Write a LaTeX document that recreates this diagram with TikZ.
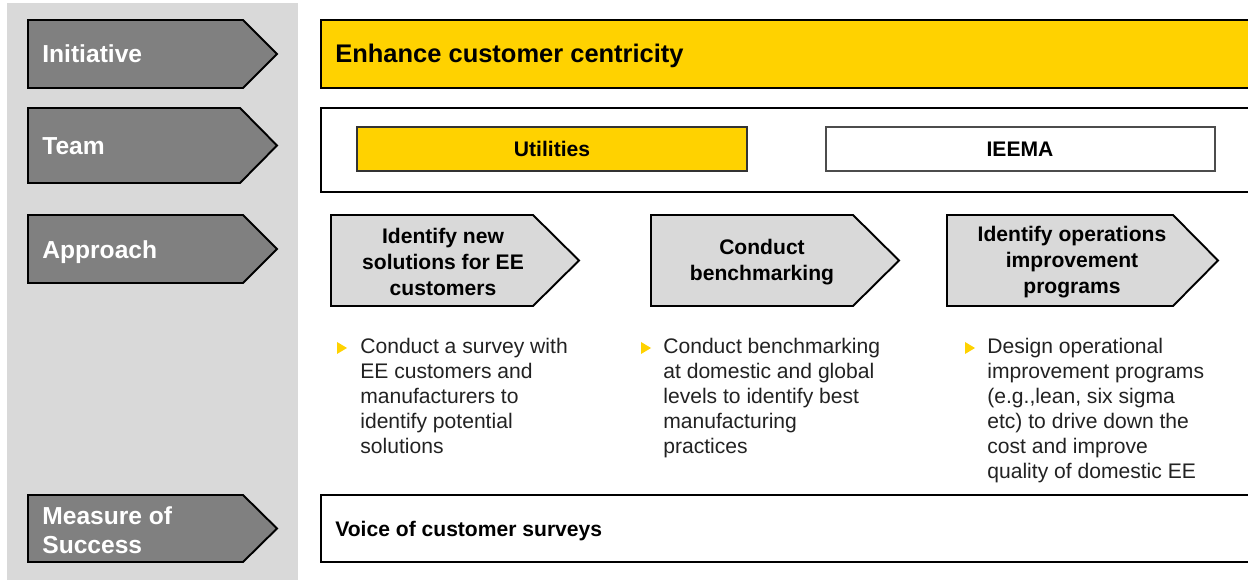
\documentclass[tikz,border=0pt]{standalone}
\usepackage{fontspec}
\setmainfont{Liberation Sans}
\usepackage{tikz}
\usetikzlibrary{positioning}
\definecolor{panelgray}{HTML}{D9D9D9}
\definecolor{tabgray}{HTML}{808080}
\definecolor{stepgray}{HTML}{D9D9D9}
\definecolor{accent}{HTML}{FFD200}
\definecolor{bodytext}{HTML}{222222}

\begin{document}
\begin{tikzpicture}[x=0.02cm, y=-0.02cm,
  tab/.style={draw=black, line width=1.1pt, fill=tabgray, line join=miter},
  tabtext/.style={text=white, inner sep=0pt, align=left, font=\fontsize{14}{16.5}\selectfont\bfseries},
  frame/.style={draw=black, line width=1.1pt},
  stepbox/.style={draw=black, line width=1.1pt, fill=stepgray},
  steptext/.style={inner sep=0pt, align=center, font=\fontsize{12}{14.7}\selectfont\bfseries},
  bullettext/.style={anchor=north west, inner sep=0pt, align=left, text=bodytext, font=\fontsize{12}{14.2}\selectfont},
  bulletmark/.style={fill=accent}]
\useasboundingbox (0,0) rectangle (1248,580);
\clip (0,0) rectangle (1248,580);
% Left panel
\fill[panelgray] (7,3) rectangle (298,580);
% Row tabs
\draw[tab] (28,20) -- (243,20) -- (277,54) -- (243,88) -- (28,88) -- cycle;
\node[tabtext, anchor=base west] (initiative) at (42,63) {Initiative};
\draw[tab] (28,108) -- (240,108) -- (277,145.5) -- (240,183) -- (28,183) -- cycle;
\node[tabtext, anchor=base west] (team) at (42,155) {Team};
\draw[tab] (28,215) -- (243,215) -- (277,249) -- (243,283) -- (28,283) -- cycle;
\node[tabtext, anchor=base west] (approach) at (42,259) {Approach};
\draw[tab] (28,495) -- (243,495) -- (277,528.5) -- (243,562) -- (28,562) -- cycle;
\node[tabtext, anchor=west] (measure) at (42,530) {Measure of\\Success};
% Initiative
\draw[frame, fill=accent] (321,20) rectangle (1260,88);
\node[anchor=base west, inner sep=0pt, font=\fontsize{14.5}{16}\selectfont\bfseries] (enhance) at (335,63) {Enhance customer centricity};
% Team
\draw[frame] (321,108) rectangle (1260,192);
\draw[draw=black!80, line width=0.6pt, fill=accent] (357,127) rectangle (747,171);
\node[font=\fontsize{12}{14}\selectfont\bfseries] (utilities) at (552,149) {Utilities};
\draw[draw=black!70, line width=0.6pt, fill=white] (826,127) rectangle (1215,171);
\node[font=\fontsize{12}{14}\selectfont\bfseries] (ieema) at (1020,149) {IEEMA};
% Approach steps
\draw[stepbox] (331,215) -- (533,215) -- (579,260.5) -- (533,306) -- (331,306) -- cycle;
\node[steptext] (step1) at (443,262) {Identify new\\solutions for EE\\customers};
\draw[stepbox] (651,215) -- (853,215) -- (899,260.5) -- (853,306) -- (651,306) -- cycle;
\node[steptext] (step2) at (762,262) {Conduct\\benchmarking};
\draw[stepbox] (947,215) -- (1173,215) -- (1218,260.5) -- (1173,306) -- (947,306) -- cycle;
\node[steptext] (step3) at (1072,262) {Identify operations\\improvement\\programs};
% Bullets
\fill[bulletmark] (337,342) -- (347,348) -- (337,354) -- cycle;
\node[bullettext] (detail1) at (360,338) {Conduct a survey with\\EE customers and\\manufacturers to\\identify potential\\solutions};
\fill[bulletmark] (641,342) -- (651,348) -- (641,354) -- cycle;
\node[bullettext] (detail2) at (663,338) {Conduct benchmarking\\at domestic and global\\levels to identify best\\manufacturing\\practices};
\fill[bulletmark] (965,342) -- (975,348) -- (965,354) -- cycle;
\node[bullettext] (detail3) at (987,338) {Design operational\\improvement programs\\(e.g.,lean, six sigma\\etc) to drive down the\\cost and improve\\quality of domestic EE};
% Measure of success
\draw[frame] (321,495) rectangle (1260,562);
\node[anchor=base west, inner sep=0pt, font=\fontsize{12}{14}\selectfont\bfseries] (voice) at (335,537) {Voice of customer surveys};
\end{tikzpicture}
\end{document}
